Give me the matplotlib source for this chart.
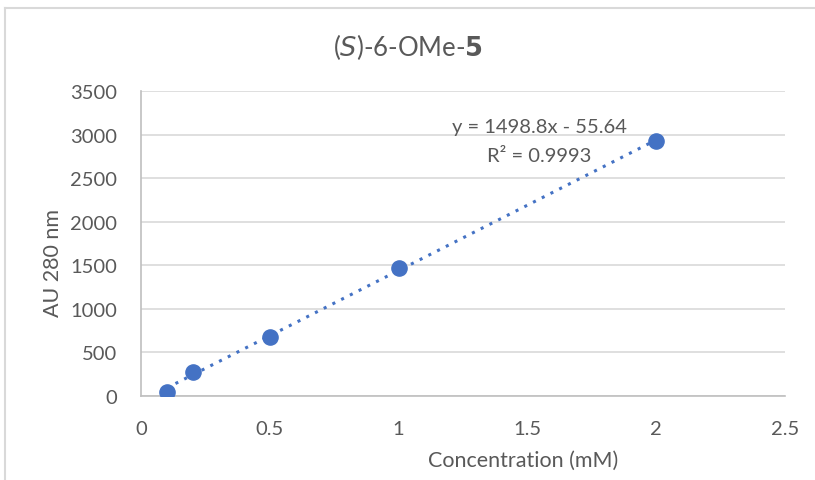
import matplotlib.pyplot as plt
from matplotlib.lines import Line2D
import numpy as np

conc = [0.1, 0.2, 0.5, 1.0, 2.0]
au = [50, 280, 680, 1470, 2925]
x_ticks = [0, 0.5, 1, 1.5, 2, 2.5]
x_labels = ["0", "0.5", "1", "1.5", "2", "2.5"]
y_ticks = [0, 500, 1000, 1500, 2000, 2500, 3000, 3500]
eq_text = "y = 1498.8x - 55.64"
r2_text = "R² = 0.9993"

plt.rcParams['font.family'] = ['Lato', 'DejaVu Sans']

fig = plt.figure(figsize=(8.15, 4.81), dpi=100)
ax = fig.add_axes([141/815, 84/481, 644/815, 305/481])

# chart border (top & left visible)
fig.add_artist(Line2D([5/815, 1.0], [1 - 9/481, 1 - 9/481], transform=fig.transFigure, color="#d9d9d9", lw=1.5))
fig.add_artist(Line2D([5/815, 5/815], [0, 1 - 9/481], transform=fig.transFigure, color="#d9d9d9", lw=1.5))

blue = "#4472c4"
m, b = np.polyfit(conc, au, 1)
xs = np.array([min(conc), max(conc)])
ax.plot(xs, m * xs + b, color=blue, ls=(0, (1, 2.2)), lw=2.2, zorder=2)
ax.scatter(conc, au, s=120, color=blue, zorder=3)

ax.set_xlim(0, 2.5)
ax.set_ylim(0, 3500)
ax.set_xticks(x_ticks)
ax.set_xticklabels(x_labels)
ax.set_yticks(y_ticks)
ax.grid(axis="y", color="#d9d9d9", lw=1.2)
ax.set_axisbelow(True)
for s in ["top", "right"]:
    ax.spines[s].set_visible(False)
for s in ["left", "bottom"]:
    ax.spines[s].set_color("#bfbfbf")
    ax.spines[s].set_linewidth(1.2)
ax.tick_params(length=0, labelsize=14.5, colors="#595959")
ax.tick_params(axis="x", pad=17)
ax.tick_params(axis="y", pad=17)

ax.set_xlabel("Concentration (mM)", fontsize=15.5, color="#595959")
ax.set_ylabel("AU 280 nm", fontsize=15.5, color="#595959")
ax.xaxis.set_label_coords(0.593, -0.175)
ax.yaxis.set_label_coords(-0.121, 0.439)

fig.text(0.5, 1 - 47/481, r"($\it{S}$)-6-OMe-$\bf{5}$", ha="center", va="center",
         fontsize=18.5, color="#595959")

ax.text(539/815, 1 - 128/481, eq_text, transform=fig.transFigure, ha="center", va="center",
        fontsize=14.5, color="#595959")
ax.text(539/815, 1 - 157/481, r2_text, transform=fig.transFigure, ha="center", va="center",
        fontsize=14.5, color="#595959")

fig.savefig("out.png", dpi=100)
